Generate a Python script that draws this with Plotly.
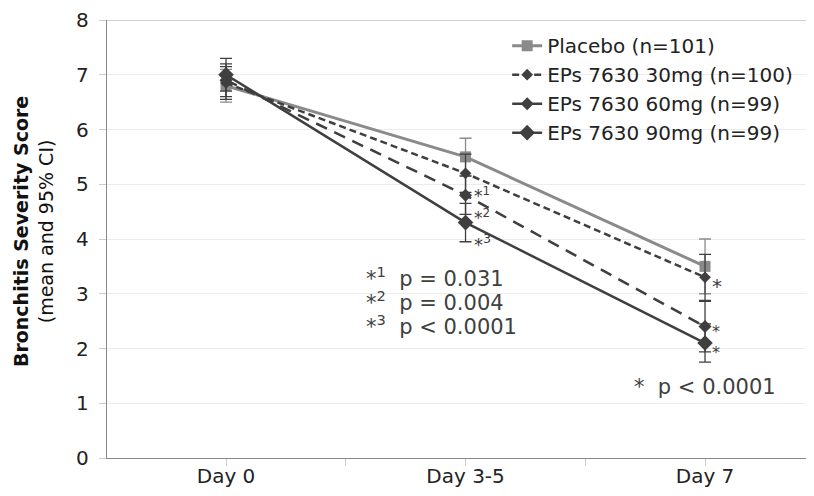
import plotly.graph_objects as go

days = ["Day 0", "Day 3-5", "Day 7"]
series_names = ["Placebo (n=101)", "EPs 7630 30mg (n=100)", "EPs 7630 60mg (n=99)", "EPs 7630 90mg (n=99)"]
placebo = [6.8, 5.5, 3.5]
eps30 = [6.85, 5.2, 3.3]
eps60 = [6.9, 4.8, 2.4]
eps90 = [7.0, 4.3, 2.1]
ci_placebo = [0.3, 0.34, 0.5]
ci_30 = [0.3, 0.35, 0.42]
ci_60 = [0.3, 0.35, 0.46]
ci_90 = [0.3, 0.35, 0.35]
y_ticks = [0, 1, 2, 3, 4, 5, 6, 7, 8]

xpos = list(range(len(days)))
FONT = "DejaVu Sans"
DARK = "#3f3f3f"
GRAY = "#8a8a8a"

styles = [
    dict(color=GRAY, dash="solid", symbol="square", size=11, width=3),
    dict(color=DARK, dash="7px,4px", symbol="diamond", size=9, width=2.5),
    dict(color=DARK, dash="12px,8px", symbol="diamond", size=10, width=2.5),
    dict(color=DARK, dash="solid", symbol="diamond", size=12, width=2.5),
]
data = [placebo, eps30, eps60, eps90]
cis = [ci_placebo, ci_30, ci_60, ci_90]

fig = go.Figure()
for name, vals, ci, st in zip(series_names, data, cis, styles):
    fig.add_trace(go.Scatter(
        x=xpos, y=vals, name=name, mode="lines+markers",
        line=dict(color=st["color"], dash=st["dash"], width=st["width"]),
        marker=dict(symbol=st["symbol"], size=st["size"], color=st["color"]),
        error_y=dict(type="data", array=ci, color=st["color"], thickness=1.3, width=6),
    ))

def ann(x, y, text, size=21, xanchor="left"):
    fig.add_annotation(x=x, y=y, text=text, showarrow=False, xanchor=xanchor,
                       yanchor="middle", borderpad=0,
                       font=dict(family=FONT, size=size, color="#404040"))

# markers next to Day 3-5 points
ann(1.03, 4.6, "*<sup>1</sup><br>*<sup>2</sup>", size=17)
ann(1.03, 3.92, "*<sup>3</sup>", size=18)
# Day 7 stars
ann(2.025, 3.14, "*", size=20)
ann(2.025, 2.12, "*<br>*", size=16)
# p-value legend
ann(0.58, 3.31, "*<sup>1</sup>  p = 0.031")
ann(0.58, 2.86, "*<sup>2</sup>  p = 0.004")
ann(0.58, 2.43, "*<sup>3</sup>  p < 0.0001")
ann(1.70, 1.30, "*  p < 0.0001", size=21)

# y-axis title (two lines)
fig.add_annotation(xref="paper", yref="paper", x=-0.1047, y=0.518, textangle=-90,
                   xanchor="center", yanchor="middle", showarrow=False,
                   text="<b>Bronchitis Severity Score</b><br>(mean and 95% CI)",
                   font=dict(family=FONT, size=19, color="#111111"))

fig.add_shape(type="line", xref="paper", yref="y", x0=0, x1=1, y0=8, y1=8,
              line=dict(color="#c0c0c0", width=1.3))

# page body has an 8px margin: figure sized to fill the rest of the window
fig.update_layout(
    width=806, height=488,
    margin=dict(l=99, r=0, t=12, b=38),
    paper_bgcolor="white", plot_bgcolor="white",
    font=dict(family=FONT, size=20, color="#222222"),
    showlegend=True,
    legend=dict(x=0.566, y=0.986, xanchor="left", yanchor="top",
                font=dict(family=FONT, size=20, color="#222222"),
                bgcolor="rgba(0,0,0,0)", tracegroupgap=0),
    xaxis=dict(
        range=[-0.497, 2.455], automargin=False,
        tickmode="array", tickvals=xpos, ticktext=days,
        ticks="", showgrid=False, zeroline=False,
        showline=True, linecolor="#888888", linewidth=1.3,
        tickfont=dict(family=FONT, size=20, color="#222222"),
        minor=dict(tickmode="array", tickvals=[-0.5, 0.0, 0.5, 1.0, 1.5, 2.0, 2.5],
                   ticks="outside", ticklen=7, tickcolor="#cccccc", showgrid=False),
    ),
    yaxis=dict(
        range=[0, 8], tickvals=y_ticks, automargin=False,
        showgrid=True, gridcolor="#ececec", gridwidth=1, zeroline=False,
        showline=True, linecolor="#888888", linewidth=1.3,
        ticks="outside", ticklen=7, tickcolor="#cccccc", ticklabelstandoff=6,
        tickfont=dict(family=FONT, size=20, color="#222222"),
    ),
)

fig.write_html("out.html")
